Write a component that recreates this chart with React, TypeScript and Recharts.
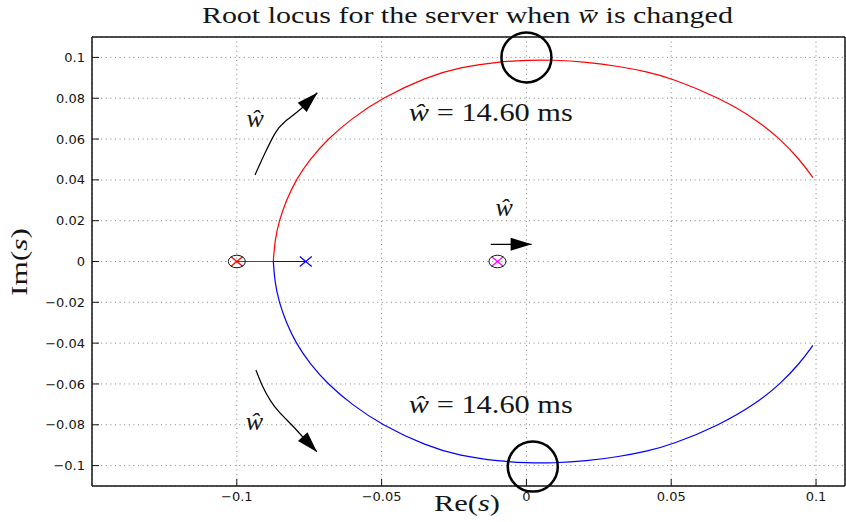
import React from 'react';
import { ScatterChart, Scatter, XAxis, YAxis, CartesianGrid } from 'recharts';

const W = 846;
const H = 522;
const SERIF = '"Liberation Serif", "Times New Roman", serif';
const SANS = '"DejaVu Sans", sans-serif';
const INK = '#151515';
const RED = '#ff0000';
const BLUE = '#0000ff';
const MAGENTA = '#ff00ff';

// axes
const xTicks = [-0.1, -0.05, 0, 0.05, 0.1];
const xTickLabels = ['−0.1', '−0.05', '0', '0.05', '0.1'];
const yTicks = [-0.1, -0.08, -0.06, -0.04, -0.02, 0, 0.02, 0.04, 0.06, 0.08, 0.1];
const yTickLabels = ['−0.1', '−0.08', '−0.06', '−0.04', '−0.02', '0', '0.02', '0.04', '0.06', '0.08', '0.1'];

// locus branches (Re, Im)
const upperBranch = [
  { x: -0.0874, y: 0 },
  { x: -0.0869, y: 0.01 },
  { x: -0.0854, y: 0.02 },
  { x: -0.0829, y: 0.03 },
  { x: -0.0796, y: 0.04 },
  { x: -0.0748, y: 0.05 },
  { x: -0.0686, y: 0.06 },
  { x: -0.0604, y: 0.07 },
  { x: -0.05, y: 0.08 },
  { x: -0.0345, y: 0.0904 },
  { x: -0.023, y: 0.0952 },
  { x: -0.0092, y: 0.0979 },
  { x: 0, y: 0.0987 },
  { x: 0.0092, y: 0.0988 },
  { x: 0.0207, y: 0.0978 },
  { x: 0.032, y: 0.0956 },
  { x: 0.0415, y: 0.093 },
  { x: 0.0502, y: 0.0898 },
  { x: 0.0669, y: 0.08 },
  { x: 0.0789, y: 0.07 },
  { x: 0.0877, y: 0.06 },
  { x: 0.0945, y: 0.0497 },
  { x: 0.0989, y: 0.0411 },
];
const lowerBranch = [
  { x: -0.0874, y: 0 },
  { x: -0.0869, y: -0.01 },
  { x: -0.0854, y: -0.02 },
  { x: -0.0829, y: -0.03 },
  { x: -0.0796, y: -0.04 },
  { x: -0.0748, y: -0.05 },
  { x: -0.0686, y: -0.06 },
  { x: -0.0604, y: -0.07 },
  { x: -0.05, y: -0.08 },
  { x: -0.0345, y: -0.0904 },
  { x: -0.023, y: -0.0952 },
  { x: -0.0092, y: -0.0979 },
  { x: 0, y: -0.0987 },
  { x: 0.0092, y: -0.0988 },
  { x: 0.0207, y: -0.0978 },
  { x: 0.032, y: -0.0956 },
  { x: 0.0415, y: -0.093 },
  { x: 0.0502, y: -0.0898 },
  { x: 0.0669, y: -0.08 },
  { x: 0.0789, y: -0.07 },
  { x: 0.0877, y: -0.06 },
  { x: 0.0945, y: -0.0497 },
  { x: 0.0989, y: -0.0411 },
];
const redAxisPart = [{ x: -0.1, y: 0 }, { x: -0.0874, y: 0 }];
const blueAxisPart = [{ x: -0.0874, y: 0 }, { x: -0.0762, y: 0 }];

// poles, zeros, highlighted points
const redPoles = [{ x: -0.1, y: 0 }];
const bluePoles = [{ x: -0.0762, y: 0 }];
const magentaPoles = [{ x: -0.01, y: 0 }];
const zeros = [{ x: -0.1, y: 0 }, { x: -0.01, y: 0 }];
const marked = [{ x: 0, y: 0.1 }, { x: 0.0022, y: -0.1005 }];

// annotation arrows
const arrowUp = [
  { x: -0.0937, y: 0.0424 },
  { x: -0.0903, y: 0.053 },
  { x: -0.0868, y: 0.0628 },
  { x: -0.0834, y: 0.0685 },
  { x: -0.0776, y: 0.0751 },
  { x: -0.0722, y: 0.0827 },
];
const arrowRight = [{ x: -0.0123, y: 0.0084 }, { x: 0.0018, y: 0.0084 }];
const arrowDown = [
  { x: -0.0934, y: -0.0532 },
  { x: -0.0913, y: -0.0605 },
  { x: -0.0885, y: -0.0679 },
  { x: -0.0851, y: -0.0742 },
  { x: -0.081, y: -0.0801 },
  { x: -0.0772, y: -0.086 },
  { x: -0.0723, y: -0.0933 },
];

// text annotations
const hatLabels = [
  { x: -0.0937, y: 0.0659 },
  { x: -0.0077, y: 0.0223 },
  { x: -0.0939, y: -0.0826 },
];
const valueLabels = [
  { x: -0.0406, y: 0.0688, value: '14.60 ms' },
  { x: -0.0406, y: -0.0742, value: '14.60 ms' },
];

const fmt = (ticks: number[], labels: string[]) => (v: number) => {
  const i = ticks.indexOf(v);
  return i >= 0 ? labels[i] : String(v);
};

const Nothing = () => <g />;

const cross = (color: string) => (p: any) => (
  <g stroke={color} strokeWidth={1.2}>
    <line x1={p.cx - 6} y1={p.cy - 5} x2={p.cx + 6} y2={p.cy + 5} />
    <line x1={p.cx - 6} y1={p.cy + 5} x2={p.cx + 6} y2={p.cy - 5} />
  </g>
);

const ZeroMark = (p: any) => (
  <ellipse cx={p.cx} cy={p.cy} rx={8.5} ry={6.3} fill="none" stroke={INK} strokeWidth={1} />
);

const BigCircle = (p: any) => (
  <circle cx={p.cx} cy={p.cy} r={25} fill="none" stroke="#000" strokeWidth={2.5} />
);

const head = (angle: number) => (p: any) => (
  <polygon
    points="0,0 -21,-6.5 -21,6.5"
    fill="#000"
    transform={`translate(${p.cx},${p.cy}) rotate(${angle})`}
  />
);

const lastOf = (arr: { x: number; y: number }[]) => [arr[arr.length - 1]];

const HatW = (p: any) => (
  <text x={p.cx} y={p.cy} textAnchor="middle" fontFamily={SERIF} fontStyle="italic" fontSize={26} fill={INK}>
    ŵ
  </text>
);

const ValueLabel = (p: any) => (
  <text x={p.cx} y={p.cy} fontFamily={SERIF} fontSize={26} fill={INK} textLength={164} lengthAdjust="spacingAndGlyphs">
    <tspan fontStyle="italic">ŵ</tspan>
    {' = ' + p.payload.value}
  </text>
);

export default function App() {
  const axisStroke = { stroke: INK, strokeWidth: 1.5 };
  const tickStyle = { fontFamily: SANS, fontSize: 13, fill: INK };
  return (
    <div style={{ position: 'absolute', left: 0, top: 0, width: W, height: H, background: '#fff' }}>
      <ScatterChart width={W} height={H} margin={{ top: 36, right: 0, bottom: 0, left: 0 }}>
        <CartesianGrid stroke="#808080" strokeDasharray="1 3.6" />
        <XAxis
          type="number"
          dataKey="x"
          domain={[-0.15, 0.11]}
          ticks={xTicks}
          interval={0}
          tickFormatter={fmt(xTicks, xTickLabels)}
          height={36}
          tickSize={-7}
          tickMargin={13}
          axisLine={axisStroke}
          tickLine={{ stroke: INK }}
          tick={tickStyle}
        />
        <XAxis
          xAxisId="top"
          orientation="top"
          type="number"
          dataKey="x"
          domain={[-0.15, 0.11]}
          ticks={xTicks}
          interval={0}
          height={1}
          tickSize={-7}
          axisLine={axisStroke}
          tickLine={{ stroke: INK }}
          tick={false}
        />
        <YAxis
          type="number"
          dataKey="y"
          domain={[-0.11, 0.11]}
          ticks={yTicks}
          interval={0}
          tickFormatter={fmt(yTicks, yTickLabels)}
          width={92}
          tickSize={-7}
          tickMargin={14}
          axisLine={axisStroke}
          tickLine={{ stroke: INK }}
          tick={tickStyle}
        />
        <YAxis
          yAxisId="right"
          orientation="right"
          type="number"
          dataKey="y"
          domain={[-0.11, 0.11]}
          ticks={yTicks}
          interval={0}
          width={1}
          tickSize={-7}
          axisLine={axisStroke}
          tickLine={{ stroke: INK }}
          tick={false}
        />

        <Scatter data={upperBranch} fill={RED} line={{ stroke: RED, strokeWidth: 1.2 }} lineJointType="basis" shape={Nothing} isAnimationActive={false} />
        <Scatter data={lowerBranch} fill={BLUE} line={{ stroke: BLUE, strokeWidth: 1.2 }} lineJointType="basis" shape={Nothing} isAnimationActive={false} />
        <Scatter data={redAxisPart} fill={RED} line={{ stroke: RED, strokeWidth: 1.2 }} shape={Nothing} isAnimationActive={false} />
        <Scatter data={blueAxisPart} fill={BLUE} line={{ stroke: BLUE, strokeWidth: 1.2 }} shape={Nothing} isAnimationActive={false} />

        <Scatter data={redPoles} shape={cross(RED)} isAnimationActive={false} />
        <Scatter data={bluePoles} shape={cross(BLUE)} isAnimationActive={false} />
        <Scatter data={magentaPoles} shape={cross(MAGENTA)} isAnimationActive={false} />
        <Scatter data={zeros} shape={ZeroMark} isAnimationActive={false} />
        <Scatter data={marked} shape={BigCircle} isAnimationActive={false} />

        <Scatter data={arrowUp} fill="#000" line={{ stroke: '#000', strokeWidth: 1.2 }} lineJointType="natural" shape={Nothing} isAnimationActive={false} />
        <Scatter data={lastOf(arrowUp)} shape={head(-44)} isAnimationActive={false} />
        <Scatter data={arrowRight} fill="#000" line={{ stroke: '#000', strokeWidth: 1.2 }} shape={Nothing} isAnimationActive={false} />
        <Scatter data={lastOf(arrowRight)} shape={head(0)} isAnimationActive={false} />
        <Scatter data={arrowDown} fill="#000" line={{ stroke: '#000', strokeWidth: 1.2 }} lineJointType="natural" shape={Nothing} isAnimationActive={false} />
        <Scatter data={lastOf(arrowDown)} shape={head(47)} isAnimationActive={false} />

        <Scatter data={hatLabels} shape={HatW} isAnimationActive={false} />
        <Scatter data={valueLabels} shape={ValueLabel} isAnimationActive={false} />
      </ScatterChart>

      <svg width={W} height={H} style={{ position: 'absolute', left: 0, top: 0, pointerEvents: 'none' }}>
        <text x={467.4} y={23} textAnchor="middle" fontFamily={SERIF} fontSize={24} fill={INK} textLength={531} lengthAdjust="spacingAndGlyphs">
          Root locus for the server when <tspan fontStyle="italic">w̄</tspan> is changed
        </text>
        <text x={467} y={511} textAnchor="middle" fontFamily={SERIF} fontSize={24} fill={INK} textLength={66} lengthAdjust="spacingAndGlyphs">
          Re(<tspan fontStyle="italic">s</tspan>)
        </text>
        <text x={27} y={262} textAnchor="middle" transform="rotate(-90 27 262)" fontFamily={SERIF} fontSize={24} fill={INK} textLength={68} lengthAdjust="spacingAndGlyphs">
          Im(<tspan fontStyle="italic">s</tspan>)
        </text>
      </svg>
    </div>
  );
}
